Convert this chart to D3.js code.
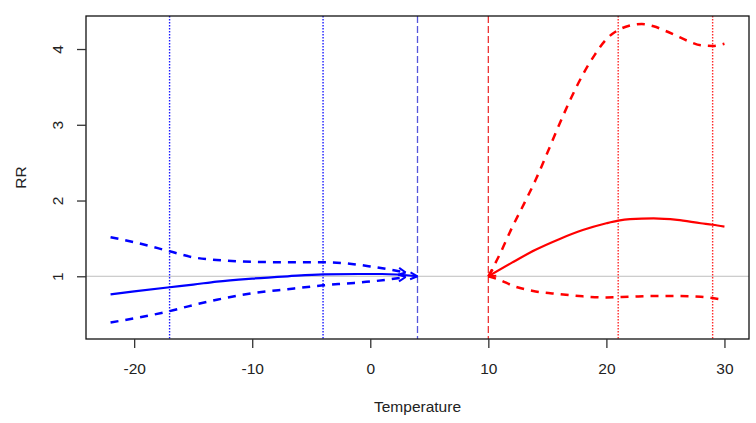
<!DOCTYPE html>
<html>
<head>
<meta charset="utf-8">
<script src="https://cdn.jsdelivr.net/npm/d3@7"></script>
<style>
  body { margin: 0; background: #fff; }
  svg { display: block; font-family: "Liberation Sans", Arial, sans-serif; }
</style>
</head>
<body>
<div id="chart"></div>
<script>
// cold side (blue)
const coldT = [-22, -20, -17, -15, -13, -10, -7, -4, -1, 1, 4];
const coldRR = [0.76, 0.80, 0.855, 0.89, 0.93, 0.97, 1.0, 1.025, 1.03, 1.03, 1.0];
const coldCiT = [-22, -20, -17, -15, -13, -10, -7, -4, -2, 0, 3];
const coldHi = [1.515, 1.45, 1.33, 1.25, 1.215, 1.19, 1.185, 1.185, 1.17, 1.13, 1.05];
const coldLo = [0.39, 0.445, 0.54, 0.62, 0.69, 0.775, 0.83, 0.88, 0.905, 0.93, 0.99];

// hot side (red)
const hotT = [10, 12, 14, 16, 18, 20, 21, 22, 24, 26, 28, 29, 30];
const hotRR = [1.0, 1.18, 1.35, 1.49, 1.61, 1.70, 1.735, 1.755, 1.765, 1.745, 1.70, 1.68, 1.655];
const hotHiT = [10, 11, 12, 13, 14, 15, 16, 17, 18, 19, 20, 21, 22, 23, 24, 25, 26, 27, 28, 29, 30];
const hotHi = [1.0, 1.30, 1.64, 1.95, 2.27, 2.63, 3.0, 3.35, 3.66, 3.92, 4.13, 4.25, 4.31, 4.33, 4.30, 4.24, 4.17, 4.10, 4.05, 4.04, 4.07];
const hotLoT = [10, 11, 12, 14, 16, 18, 20, 22, 24, 26, 28, 29.5];
const hotLo = [1.0, 0.95, 0.88, 0.80, 0.765, 0.735, 0.72, 0.73, 0.74, 0.74, 0.73, 0.70];

// reference lines
const coldDotted = [-17, -4];
const coldCut = 4;
const hotCut = 10;
const hotDotted = [21, 29];

const xTicks = [-20, -10, 0, 10, 20, 30];
const yTicks = [1, 2, 3, 4];

let w = 756, h = 423;
let mLeft = 86, mRight = 749, mTop = 16, mBottom = 339;

let svg = d3.select("#chart").append("svg")
  .attr("width", w)
  .attr("height", h);

let x = d3.scaleLinear().domain([-24.08, 32.08]).range([mLeft, mRight]);
let y = d3.scaleLinear().domain([0.172, 4.436]).range([mBottom, mTop]);

// horizontal line at RR = 1
svg.append("line")
  .attr("x1", mLeft).attr("x2", mRight)
  .attr("y1", y(1)).attr("y2", y(1))
  .attr("stroke", "#bebebe").attr("stroke-width", 1);

// vertical reference lines
function vline(t, color, dash, width) {
  svg.append("line")
    .attr("x1", x(t)).attr("x2", x(t))
    .attr("y1", mTop).attr("y2", mBottom)
    .attr("stroke", color)
    .attr("stroke-width", width)
    .attr("stroke-dasharray", dash);
}
coldDotted.forEach(function(t) { vline(t, "#1a1aff", "1.5,1.5", 1.4); });
vline(coldCut, "#5555dd", "7,3", 1.3);
vline(hotCut, "#ee3333", "7,3", 1.3);
hotDotted.forEach(function(t) { vline(t, "#ff2a2a", "1.5,1.5", 1.4); });

let line = d3.line()
  .x(function(d) { return x(d[0]); })
  .y(function(d) { return y(d[1]); })
  .curve(d3.curveMonotoneX);

function curve(ts, vals, color, dash, width) {
  let pts = ts.map(function(t, i) { return [t, vals[i]]; });
  svg.append("path")
    .attr("d", line(pts))
    .attr("fill", "none")
    .attr("stroke", color)
    .attr("stroke-width", width)
    .attr("stroke-dasharray", dash);
  return pts;
}

// open arrowhead at point "to", coming from point "from"
function arrow(from, to, color, width) {
  let x0 = x(from[0]), y0 = y(from[1]), x1 = x(to[0]), y1 = y(to[1]);
  let a = Math.atan2(y1 - y0, x1 - x0);
  let len = 8, spread = Math.PI / 7;
  [a + Math.PI - spread, a + Math.PI + spread].forEach(function(b) {
    svg.append("line")
      .attr("x1", x1).attr("y1", y1)
      .attr("x2", x1 + len * Math.cos(b))
      .attr("y2", y1 + len * Math.sin(b))
      .attr("stroke", color)
      .attr("stroke-width", width);
  });
}

let p;
p = curve(coldCiT, coldHi, "#0000ff", "8,7", 2.5);
arrow(p[p.length - 2], p[p.length - 1], "#0000ff", 2);
p = curve(coldCiT, coldLo, "#0000ff", "8,7", 2.5);
arrow(p[p.length - 2], p[p.length - 1], "#0000ff", 2);
p = curve(coldT, coldRR, "#0000ff", null, 2.2);
arrow(p[p.length - 2], p[p.length - 1], "#0000ff", 2);

curve(hotHiT, hotHi, "#ff0000", "8,7", 2.5);
curve(hotLoT, hotLo, "#ff0000", "8,7", 2.5);
p = curve(hotT, hotRR, "#ff0000", null, 2.2);
arrow(p[1], p[0], "#ff0000", 2);

// box
svg.append("rect")
  .attr("x", mLeft).attr("y", mTop)
  .attr("width", mRight - mLeft).attr("height", mBottom - mTop)
  .attr("fill", "none").attr("stroke", "#111").attr("stroke-width", 1.3);

// x axis
let xAxis = svg.append("g")
  .attr("transform", "translate(0," + mBottom + ")")
  .call(d3.axisBottom(x).tickValues(xTicks).tickSize(9).tickPadding(15)
    .tickFormat(function(d) { return String(d); }));
xAxis.select(".domain").remove();
xAxis.selectAll("line").attr("stroke", "#333").attr("stroke-width", 1.3);
xAxis.selectAll("text").attr("font-size", "15.5px").attr("fill", "#222")
  .attr("font-family", "Liberation Sans, Arial, sans-serif");

// y axis with R-style rotated labels
let yAxis = svg.append("g")
  .attr("transform", "translate(" + mLeft + ",0)")
  .call(d3.axisLeft(y).tickValues(yTicks).tickSize(9)
    .tickFormat(function(d) { return String(d); }));
yAxis.select(".domain").remove();
yAxis.selectAll("line").attr("stroke", "#333").attr("stroke-width", 1.3);
yAxis.selectAll("text")
  .attr("x", null).attr("dy", null)
  .attr("text-anchor", "middle")
  .attr("transform", "translate(-23,0) rotate(-90)")
  .attr("font-size", "15.5px").attr("fill", "#222")
  .attr("font-family", "Liberation Sans, Arial, sans-serif");

svg.append("text")
  .attr("x", (mLeft + mRight) / 2).attr("y", 412)
  .attr("text-anchor", "middle")
  .attr("font-size", "15.5px").attr("fill", "#222")
  .text("Temperature");

svg.append("text")
  .attr("transform", "translate(26," + ((mTop + mBottom) / 2) + ") rotate(-90)")
  .attr("text-anchor", "middle")
  .attr("font-size", "15.5px").attr("fill", "#222")
  .text("RR");
</script>
</body>
</html>
